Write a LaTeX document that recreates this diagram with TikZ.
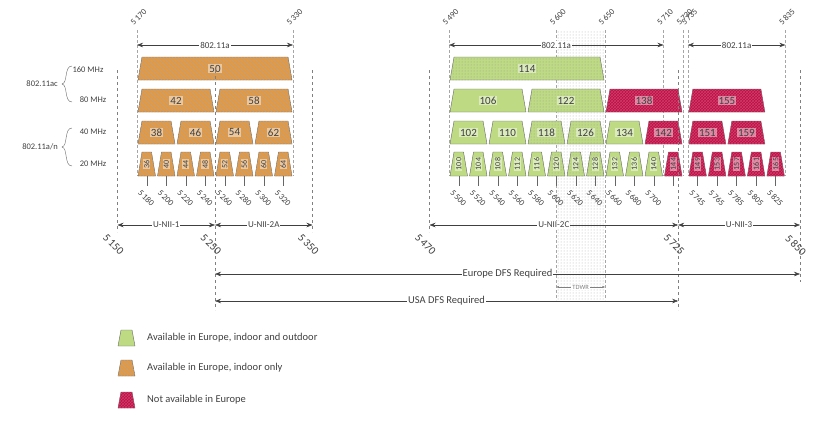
\documentclass[tikz,border=0pt]{standalone}
\usepackage{fontspec}
\setmainfont{Carlito}
\usetikzlibrary{patterns,arrows.meta}

\definecolor{orng}{HTML}{F3962A}
\definecolor{grn}{HTML}{BEDB84}
\definecolor{rd}{HTML}{C00D45}
\definecolor{txt}{HTML}{404040}

\tikzset{
  orch/.style={draw=txt!80,fill=orng,postaction={pattern=north west lines,pattern color=gray!70}},
  gnch/.style={draw=txt!80,fill=grn},
  gdch/.style={draw=txt!80,fill=grn,postaction={pattern=dots,pattern color=gray!80}},
  rdch/.style={draw=txt!80,fill=rd,postaction={pattern=crosshatch,pattern color=rd!80!white}},
  lbl/.style={fill=white,fill opacity=.45,text opacity=1,inner sep=1pt,text=txt,font=\fontsize{11}{11}\selectfont},
  slbl/.style={lbl,rotate=90,font=\fontsize{8}{8}\selectfont},
  frq/.style={text=txt,font=\fontsize{8.5}{8.5}\selectfont,inner sep=1pt},
  guide/.style={densely dashed,gray!70,line width=.4pt},
  bandln/.style={dashed,gray,line width=.8pt},
  dim/.style={{Stealth[length=6pt]}-{Stealth[length=6pt]},txt,line width=.5pt},
  tag/.style={fill=white,inner sep=1pt,text=txt,font=\fontsize{9}{9}\selectfont},
}

% centre freq, half width, style, label, label style
\newcommand\chan[5]{%
  \pgfmathsetmacro\xa{137+(#1-#2-5170)*0.975+1}%
  \pgfmathsetmacro\xb{137+(#1+#2-5170)*0.975-1}%
  \path[#3] (\xa,\rb) -- (\xa+4,\rt) -- (\xb-4,\rt) -- (\xb,\rb) -- cycle;
  \node[#5] at ({(\xa+\xb)/2},{(\rt+\rb)/2}) {#4};}
\newcommand\fq[1]{137+(#1-5170)*0.975}

\begin{document}
\begin{tikzpicture}[x=1pt,y=-1pt]
\useasboundingbox (0,0) rectangle (829,431);

% TDWR area
\fill[pattern=dots,pattern color=gray!60] ({\fq{5600}},30) rectangle ({\fq{5650}},300);
\draw[guide] ({\fq{5600}},30) -- ({\fq{5600}},300);
\draw[guide] ({\fq{5650}},30) -- ({\fq{5650}},300);

% top frequency guides
\foreach \f in {5170,5330,5490,5710,5730,5735,5835} {
  \coordinate (t\f) at ({\fq{\f}},30);
  \draw[guide] (t\f) -- ({\fq{\f}},176);
}
\foreach \f/\n in {5170/170,5330/330,5490/490,5600/600,5650/650,5710/710,5730/730,5735/735,5835/835}
  \node[frq,rotate=45,anchor=south west] at ({\fq{\f}-3},27) {5\,\n};

% 802.11a extents
\coordinate (a1) at ({\fq{5170}},45);
\coordinate (a2) at ({\fq{5330}},45);
\coordinate (a3) at ({\fq{5490}},45);
\coordinate (a4) at ({\fq{5710}},45);
\coordinate (a5) at ({\fq{5735}},45);
\coordinate (a6) at ({\fq{5835}},45);
\draw[dim] (a1) -- node[tag] {802.11a} (a2);
\draw[dim] (a3) -- node[tag] {802.11a} (a4);
\draw[dim] (a5) -- node[tag] {802.11a} (a6);

% 160 MHz
\def\rt{57}\def\rb{80}
\chan{5250}{80}{orch}{50}{lbl}
\chan{5570}{80}{gdch}{114}{lbl}
% 80 MHz
\def\rt{89}\def\rb{112}
\foreach \c in {42,58} {\pgfmathsetmacro\f{5000+5*\c}\chan{\f}{40}{orch}{\c}{lbl}}
\chan{5530}{40}{gnch}{106}{lbl}
\chan{5610}{40}{gdch}{122}{lbl}
\chan{5690}{40}{rdch}{138}{lbl}
\chan{5775}{40}{rdch}{155}{lbl}
% 40 MHz
\def\rt{121}\def\rb{144}
\foreach \c in {38,46,54,62} {\pgfmathsetmacro\f{5000+5*\c}\chan{\f}{20}{orch}{\c}{lbl}}
\foreach \c in {102,110,134} {\pgfmathsetmacro\f{5000+5*\c}\chan{\f}{20}{gnch}{\c}{lbl}}
\foreach \c in {118,126} {\pgfmathsetmacro\f{5000+5*\c}\chan{\f}{20}{gdch}{\c}{lbl}}
\foreach \c in {142,151,159} {\pgfmathsetmacro\f{5000+5*\c}\chan{\f}{20}{rdch}{\c}{lbl}}
% 20 MHz
\def\rt{152}\def\rb{176}
\foreach \c in {36,40,...,64} {\pgfmathsetmacro\f{5000+5*\c}\chan{\f}{10}{orch}{\c}{slbl}}
\foreach \c in {100,104,...,116,132,136,140} {\pgfmathsetmacro\f{5000+5*\c}\chan{\f}{10}{gnch}{\c}{slbl}}
\foreach \c in {120,124,128} {\pgfmathsetmacro\f{5000+5*\c}\chan{\f}{10}{gdch}{\c}{slbl}}
\foreach \c in {144,149,153,...,165} {\pgfmathsetmacro\f{5000+5*\c}\chan{\f}{10}{rdch}{\c}{slbl}}

% centre ticks
\foreach \f/\n in {5180/180,5200/200,5220/220,5240/240,5260/260,5280/280,5300/300,5320/320,5500/500,5520/520,5540/540,5560/560,5580/580,5600/600,5620/620,5640/640,5660/660,5680/680,5700/700,5745/745,5765/765,5785/785,5805/805,5825/825} {
  \draw[txt!80] ({\fq{\f}},176) -- ({\fq{\f}},186);
  \node[frq,rotate=-45,anchor=north west] at ({\fq{\f}-5},188) {5\,\n};
}
\draw[txt!80] ({\fq{5720}},176) -- ({\fq{5720}},186);

% band edges
\foreach \f/\n/\hi in {5150/150/232,5250/250/310,5350/350/232,5470/470/232,5725/725/310,5850/850/282} {
  \coordinate (b\f) at ({\fq{\f}},225);
  \draw[bandln] ({\fq{\f}},70) -- ({\fq{\f}},\hi);
  \node[frq,font=\fontsize{11}{11}\selectfont,rotate=-45,anchor=north west] at ({\fq{\f}-10},232) {5\,\n};
}
\draw[dim] (b5150) -- node[tag] {U-NII-1} (b5250);
\draw[dim] (b5250) -- node[tag] {U-NII-2A} (b5350);
\draw[dim] (b5470) -- node[tag] {U-NII-2C} (b5725);
\draw[dim] (b5725) -- node[tag] {U-NII-3} (b5850);

% DFS
\coordinate (e1) at ({\fq{5250}},274);
\coordinate (e2) at ({\fq{5850}},274);
\coordinate (u1) at ({\fq{5250}},301);
\coordinate (u2) at ({\fq{5725}},301);
\coordinate (w1) at ({\fq{5600}},287);
\coordinate (w2) at ({\fq{5650}},287);
\draw[dim] (e1) -- node[tag,font=\fontsize{10.5}{10.5}\selectfont] {Europe DFS Required} (e2);
\draw[dim] (u1) -- node[tag,font=\fontsize{10.5}{10.5}\selectfont] {USA DFS Required} (u2);
\draw[{Stealth[length=3pt]}-{Stealth[length=3pt]},gray,line width=.3pt] (w1) -- node[tag,text=gray,font=\fontsize{6.5}{6.5}\selectfont] {TDWR} (w2);

% standards
\node[frq] (s160) at (88,70) {160 MHz};
\node[frq] (s80) at (93,100) {80 MHz};
\node[frq] (s40) at (93,132) {40 MHz};
\node[frq] (s20) at (93,164) {20 MHz};
\draw[txt!80] (72,66) .. controls (64,66) and (68,83) .. (62,84) .. controls (68,85) and (64,102) .. (72,102);
\draw[txt!80] (72,128) .. controls (64,128) and (68,146) .. (62,147) .. controls (68,148) and (64,166) .. (72,166);
\node[frq,anchor=east] (ac) at (59,84) {802.11ac};
\node[frq,anchor=east] (an) at (59,147) {802.11a/n};

% legend
\foreach \y/\s/\t in {338/gnch/{Available in Europe, indoor and outdoor},368/orch/{Available in Europe, indoor only},400/rdch/{Not available in Europe}} {
  \path[\s] (118,\y+8) -- (121,\y-8) -- (132,\y-8) -- (135,\y+8) -- cycle;
  \node[frq,font=\fontsize{10.5}{10.5}\selectfont,anchor=west] at (146,\y) {\t};
}
\end{tikzpicture}
\end{document}
